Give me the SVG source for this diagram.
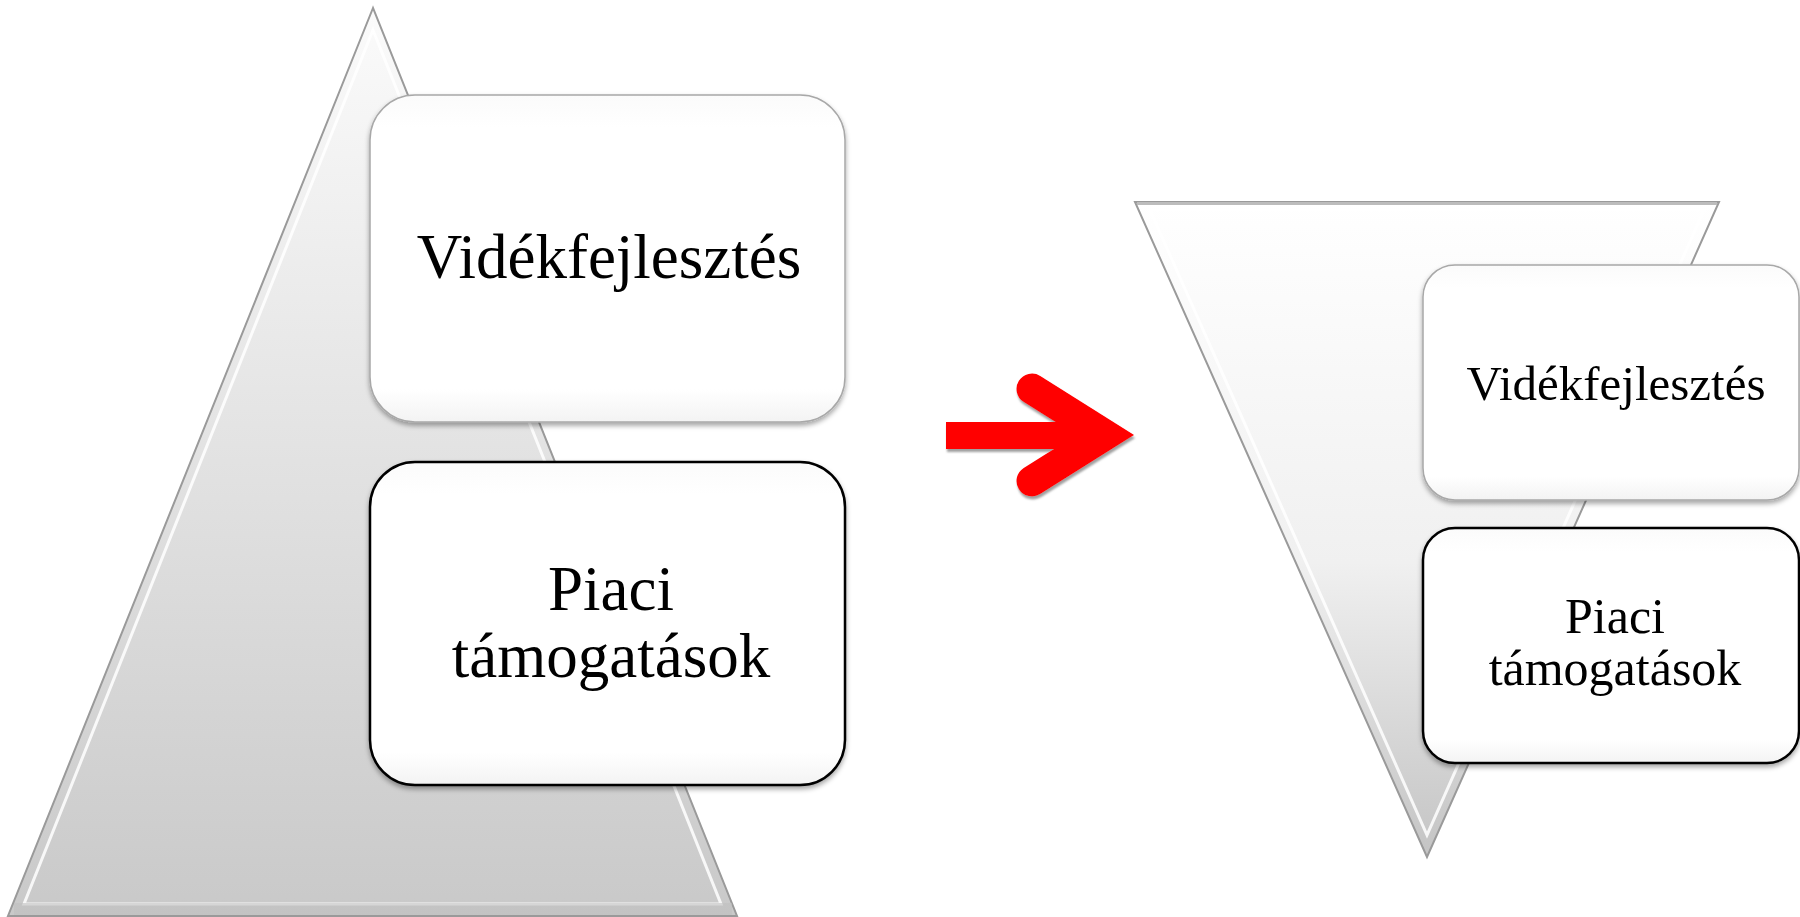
<svg xmlns="http://www.w3.org/2000/svg" width="1800" height="917" viewBox="0 0 1800 917">
<style>
.lbl{font-family:"Liberation Serif","Times New Roman",serif;fill:#000;text-anchor:middle}
.box{fill:url(#boxg)}
.b1{stroke:#a8a8a8;stroke-width:1.5}
.b2{stroke:#000;stroke-width:2.5}
.edge{fill:none;stroke:#9a9a9a;stroke-width:2}
.hl{fill:none;stroke:#ffffff;stroke-width:3;stroke-opacity:0.85}
</style>
<defs>
<linearGradient id="triL" x1="0" y1="0" x2="0" y2="1">
<stop offset="0" stop-color="#fbfbfb"/>
<stop offset="0.5" stop-color="#e2e2e2"/>
<stop offset="1" stop-color="#c9c9c9"/>
</linearGradient>
<linearGradient id="triR" x1="0" y1="0" x2="0" y2="1">
<stop offset="0" stop-color="#ffffff"/>
<stop offset="0.55" stop-color="#f0f0f0"/>
<stop offset="1" stop-color="#c4c4c4"/>
</linearGradient>
<linearGradient id="boxg" x1="0" y1="0" x2="0" y2="1">
<stop offset="0" stop-color="#fbfbfb"/>
<stop offset="0.1" stop-color="#ffffff"/>
<stop offset="0.9" stop-color="#ffffff"/>
<stop offset="1" stop-color="#f3f3f3"/>
</linearGradient>
<filter id="sh" x="-5%" y="-5%" width="110%" height="115%">
<feDropShadow dx="0" dy="3" stdDeviation="2.5" flood-color="#000" flood-opacity="0.35"/>
</filter>
<filter id="ash" filterUnits="userSpaceOnUse" x="920" y="350" width="240" height="170">
<feDropShadow dx="1" dy="3" stdDeviation="1" flood-color="#777" flood-opacity="0.7"/>
</filter>
</defs>

<g id="left-pyramid">
<polygon points="373,8 8,916 737,916" fill="url(#triL)"/>
<polygon points="373,8 8,916 737,916" class="edge"/>
<polygon points="373,30 24,904 721,904" class="hl"/>
<rect x="14" y="903" width="718" height="12" fill="#c0c0c0" opacity="0.6"/>
</g>

<g id="right-pyramid">
<polygon points="1135,202 1719,202 1427,857" fill="url(#triR)"/>
<polygon points="1135,202 1719,202 1427,857" class="edge"/>
<line x1="1137" y1="203.5" x2="1717" y2="203.5" stroke="#bcbcbc" stroke-width="3"/>
<polygon points="1150,210 1704,210 1427,835" class="hl"/>
</g>

<g id="node-left-1" filter="url(#sh)">
<rect x="370" y="95" width="475" height="327" rx="45" class="box b1"/>
<text class="lbl" x="609" y="278" font-size="63">Vidékfejlesztés</text>
</g>

<g id="node-left-2" filter="url(#sh)">
<rect x="370" y="462" width="475" height="323" rx="45" class="box b2"/>
<text class="lbl" x="611" y="610" font-size="63">Piaci</text>
<text class="lbl" x="611" y="677" font-size="63">támogatások</text>
</g>

<g id="node-right-1" filter="url(#sh)">
<rect x="1423" y="265" width="376" height="235" rx="32" class="box b1"/>
<text class="lbl" x="1616" y="400" font-size="49">Vidékfejlesztés</text>
</g>

<g id="node-right-2" filter="url(#sh)">
<rect x="1423" y="528" width="376" height="235" rx="32" class="box b2"/>
<text class="lbl" x="1615" y="633" font-size="50">Piaci</text>
<text class="lbl" x="1615" y="685" font-size="50">támogatások</text>
</g>

<g id="connectors">
<g filter="url(#ash)">
<rect x="946" y="422" width="150" height="27" fill="#ff0000"/>
<polyline points="1032,389 1105,435 1032,481" fill="none" stroke="#ff0000" stroke-width="31" stroke-linecap="round" stroke-linejoin="miter"/>
</g>
</g>
</svg>
